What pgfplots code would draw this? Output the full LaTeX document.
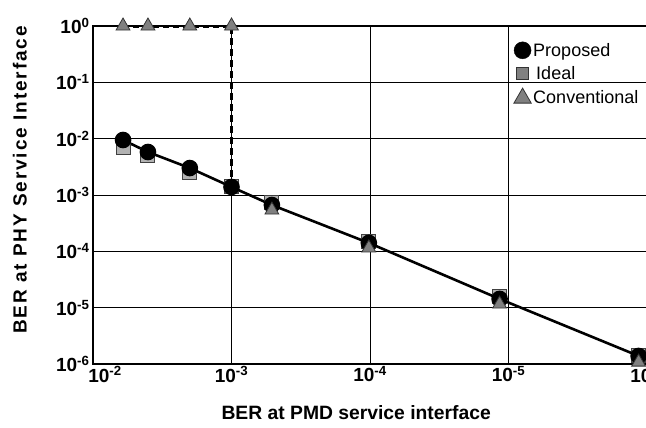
\documentclass[border=0pt]{standalone}
\usepackage{fontspec}
\setmainfont{Liberation Sans}
\usepackage{pgfplots}
\pgfplotsset{compat=1.18}

\newcommand{\tl}[1]{\textbf{10}\textsuperscript{\textbf{#1}}}

\begin{document}
\begin{tikzpicture}
\begin{loglogaxis}[
    scale only axis,
    width=554pt, height=338pt,
    x dir=reverse,
    xmin=1e-6, xmax=1e-2,
    ymin=1e-6, ymax=1,
    xtick={1e-2,1e-3,1e-4,1e-5,1e-6},
    xticklabels={\hspace*{24pt}\tl{-2},\tl{-3},\tl{-4},\tl{-5},\tl{-6}},
    ytick={1,1e-1,1e-2,1e-3,1e-4,1e-5,1e-6},
    yticklabels={\tl{0},\tl{-1},\tl{-2},\tl{-3},\tl{-4},\tl{-5},\tl{-6}},
    tick label style={font=\fontsize{19}{22}\selectfont},
    xticklabel style={yshift=1pt},
    minor tick num=0,
    major tick length=0pt,
    xminorticks=false, yminorticks=false,
    grid=major,
    major grid style={black, line width=0.9pt},
    axis line style={black, line width=1.3pt},
    clip=false,
    xlabel={\textbf{BER at PMD service interface}},
    xlabel style={font=\fontsize{19.3}{22}\selectfont, at={(axis description cs:0.475,-0.145)}, anchor=center},
    ylabel={\addfontfeatures{LetterSpace=10}\textbf{BER at PHY Service Interface}},
    ylabel style={font=\fontsize{19}{22}\selectfont, at={(axis description cs:-0.132,0.547)}, anchor=center},
    legend style={at={(0.754,0.962)}, anchor=north west, draw=none, fill=none,
        font=\fontsize{18}{21}\selectfont, row sep=5pt},
    legend cell align=left,
]
% Ideal
\addplot[only marks, mark=square*, mark size=7pt, mark options={fill=black!30, draw=black!75, line width=1pt}, forget plot]
coordinates {(6.07e-3,7.1e-3) (4.01e-3,5.1e-3) (2.0e-3,2.56e-3) (1.0e-3,1.39e-3) (5.11e-4,7.5e-4) (1.02e-4,1.52e-4) (1.16e-5,1.61e-5) (1.15e-6,1.44e-6)};
% Conventional, dashed step (drawn just under the top frame)
\addplot[black, line width=2pt, dash pattern=on 6pt off 4pt, forget plot]
coordinates {(6.07e-3,0.945) (1.0e-3,0.945)};
\addplot[black, line width=2.8pt, dash pattern=on 7pt off 4pt, forget plot]
coordinates {(1.0e-3,0.945) (1.0e-3,1.39e-3)};
% Proposed
\addplot[black, line width=2.6pt, mark=*, mark size=7pt, forget plot]
coordinates {(6.07e-3,9.47e-3) (4.01e-3,5.8e-3) (2.0e-3,3.01e-3) (1.0e-3,1.39e-3) (5.11e-4,6.64e-4) (1.02e-4,1.41e-4) (1.16e-5,1.43e-5) (1.15e-6,1.39e-6)};
% Conventional marks
\addplot[only marks, mark=triangle*, mark size=8pt, mark options={fill=black!50, draw=black!80, line width=0.8pt}, forget plot]
coordinates {(6.07e-3,1) (4.01e-3,1) (2.0e-3,1) (1.0e-3,1) (5.11e-4,5.4e-4) (1.02e-4,1.15e-4) (1.16e-5,1.16e-5) (1.15e-6,1.08e-6)};
% legend
\addlegendimage{only marks, mark=*, mark size=8.5pt, black}
\addlegendentry{Proposed}
\addlegendimage{only marks, mark=square*, mark size=6pt, mark options={fill=black!50, draw=black!80, line width=0.8pt}}
\addlegendentry{\,Ideal}
\addlegendimage{only marks, mark=triangle*, mark size=10pt, mark options={fill=black!50, draw=black!80, line width=0.8pt}}
\addlegendentry{Conventional}
\end{loglogaxis}
\pgfresetboundingbox
\path (current axis.south west) ++(-93pt,-64pt) rectangle ++(646pt,428pt);
\end{tikzpicture}
\end{document}
